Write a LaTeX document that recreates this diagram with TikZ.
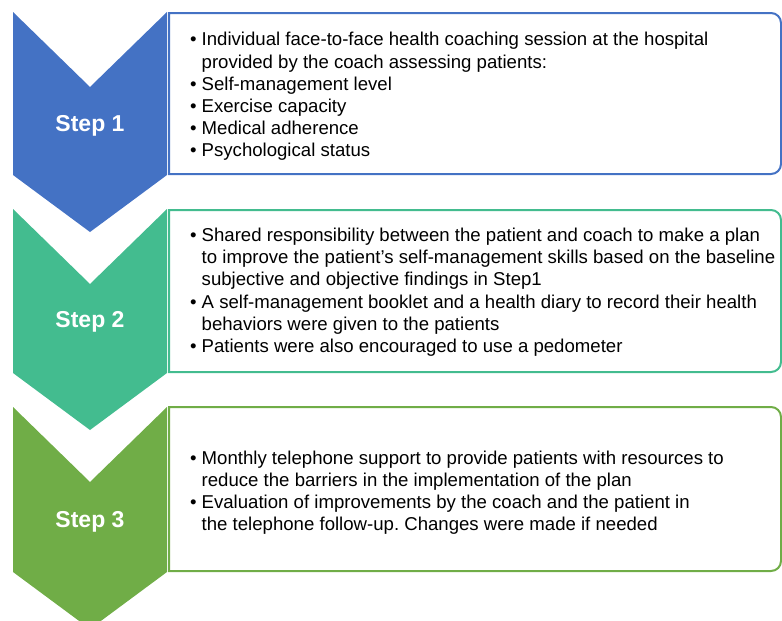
\documentclass[tikz,border=0pt]{standalone}
\usepackage{fontspec}
\setmainfont{Liberation Sans}
\frenchspacing
\definecolor{cblue}{HTML}{4472C4}
\definecolor{cteal}{HTML}{43BC8F}
\definecolor{cgreen}{HTML}{70AD47}
\tikzset{
  chev/.style={fill=#1, draw=none},
  boxline/.style={draw=#1, line width=2pt, fill=white},
  steplabel/.style={text=white, font=\fontsize{23}{27}\selectfont\bfseries, inner sep=0pt},
  boxtext/.style={anchor=west, inner sep=0pt, text=black, font=\fontsize{18.6}{22.2}\selectfont\frenchspacing, align=left}
}
\newcommand{\chevron}[4]{% color, top, notch, sides ; tip = sides+57
  \fill[chev=#1] (13,-#2) -- (90,-#3) -- (167,-#2) -- (167,-#4) -- (90,-#4-57) -- (13,-#4) -- cycle;}
\newcommand{\rbox}[3]{% color, top, bottom
  \draw[boxline=#1] (169,-#2) -- (771,-#2) arc[start angle=90,end angle=0,radius=10] -- (781,-#3+10) arc[start angle=0,end angle=-90,radius=10] -- (169,-#3) -- cycle;}
\newcommand{\bl}{\textbullet}
\begin{document}
\begin{tikzpicture}[x=1pt,y=1pt]
\useasboundingbox (0,0) rectangle (782,-621);
\chevron{cblue}{12}{87}{175}
\chevron{cteal}{209}{284}{373}
\chevron{cgreen}{407}{482}{572}
\rbox{cblue}{13}{174}
\rbox{cteal}{210}{372}
\rbox{cgreen}{407}{571}
\node[steplabel] (s1) at (90,-126) {Step 1};
\node[steplabel] (s2) at (90,-322) {Step 2};
\node[steplabel] (s3) at (90,-522) {Step 3};
\node[boxtext] (t1) at (190,-97) {\begin{tabular}{@{}l@{\hspace{5pt}}l@{}}
\bl & Individual face-to-face health coaching session at the hospital\\
 & provided by the coach assessing patients:\\
\bl & Self-management level\\
\bl & Exercise capacity\\
\bl & Medical adherence\\
\bl & Psychological status
\end{tabular}};
\node[boxtext] (t2) at (190,-292.5) {\begin{tabular}{@{}l@{\hspace{5pt}}l@{}}
\bl & Shared responsibility between the patient and coach to make a plan\\
 & to improve the patient’s self-management skills based on the baseline\\
 & subjective and objective findings in Step1\\
\bl & A self-management booklet and a health diary to record their health\\
 & behaviors were given to the patients\\
\bl & Patients were also encouraged to use a pedometer
\end{tabular}};
\node[boxtext] (t3) at (190,-493) {\begin{tabular}{@{}l@{\hspace{5pt}}l@{}}
\bl & Monthly telephone support to provide patients with resources to\\
 & reduce the barriers in the implementation of the plan\\
\bl & Evaluation of improvements by the coach and the patient in\\
 & the telephone follow-up. Changes were made if needed
\end{tabular}};
\end{tikzpicture}
\end{document}
